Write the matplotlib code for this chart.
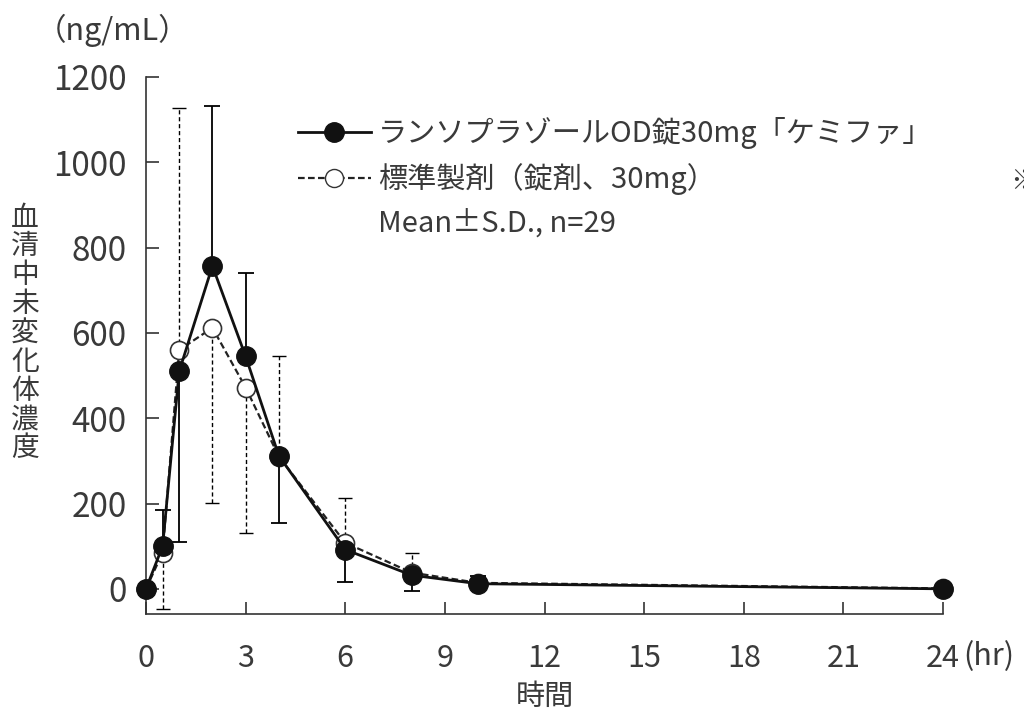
import numpy as np
import matplotlib
matplotlib.use('Agg')
import matplotlib.pyplot as plt
from matplotlib.lines import Line2D

plt.rcParams['font.family'] = ['Noto Sans CJK JP', 'DejaVu Sans']

# sampling times (hr)
times = [0, 0.5, 1, 2, 3, 4, 6, 8, 10, 24]

# test product (filled circles), mean and end of the S.D. bar drawn
test_mean = [0, 100, 510, 757, 545, 312, 92, 32, 12, 0]
test_sd_end = [None, 185, 110, 1132, 740, 155, 17, -4, 30, None]

# reference product (open circles)
ref_mean = [0, 85, 560, 612, 472, 310, 108, 38, 14, 1]
ref_sd_end = [None, -47, 1127, 201, 131, 547, 214, 84, None, None]

test_label = 'ランソプラゾールOD錠30mg「ケミファ」'
ref_label = '標準製剤（錠剤、30mg）'
note_label = 'Mean±S.D., n=29'

x_ticks = [0, 3, 6, 9, 12, 15, 18, 21, 24]
y_ticks = [0, 200, 400, 600, 800, 1000, 1200]

TEXT = '#3a3a3a'


def one_sided(mean, ends):
    lower, upper = [], []
    for m, e in zip(mean, ends):
        if e is None:
            lower.append(0); upper.append(0)
        elif e < m:
            lower.append(m - e); upper.append(0)
        else:
            lower.append(0); upper.append(e - m)
    return np.array([lower, upper])


fig = plt.figure(figsize=(10.24, 7.13), dpi=100)
ax = fig.add_axes([146 / 1024, 1 - 614 / 713, (943 - 146) / 1024, (614 - 77) / 713])

# reference (dashed, open)
eb = ax.errorbar(times, ref_mean, yerr=one_sided(ref_mean, ref_sd_end),
                 fmt='none', ecolor='black', elinewidth=1.0, capsize=5, capthick=1.0,
                 clip_on=False, zorder=2)
eb[2][0].set_linestyle((0, (3, 2)))
ax.plot(times, ref_mean, color='#222222', lw=1.6, linestyle=(0, (3, 1.5)),
        marker='o', markersize=13, markerfacecolor='white', markeredgecolor='#333333',
        markeredgewidth=1.2, clip_on=False, zorder=3)

# test (solid, filled)
ax.errorbar(times, test_mean, yerr=one_sided(test_mean, test_sd_end),
            fmt='none', ecolor='black', elinewidth=1.3, capsize=6, capthick=1.3,
            clip_on=False, zorder=4)
ax.plot(times, test_mean, color='#111111', lw=2.0, marker='o', markersize=14,
        markerfacecolor='#111111', markeredgecolor='#111111', clip_on=False, zorder=5)

ax.set_xlim(0, 24)
ax.set_ylim(-59, 1200)
ax.set_xticks(x_ticks)
ax.set_yticks(y_ticks)
ax.tick_params(axis='both', direction='in', length=9, width=1.2, colors='#333333',
               labelcolor=TEXT)
ax.tick_params(axis='y', labelsize=24, pad=14)
ax.tick_params(axis='x', labelsize=22, pad=21)
for s in ['top', 'right']:
    ax.spines[s].set_visible(False)
for s in ['left', 'bottom']:
    ax.spines[s].set_linewidth(1.2)
    ax.spines[s].set_color('#333333')

handles = [
    Line2D([], [], color='#111111', lw=2.0, marker='o', markersize=14,
           markerfacecolor='#111111'),
    Line2D([], [], color='#222222', lw=1.6, linestyle=(0, (3, 1.5)), marker='o',
           markersize=13, markerfacecolor='white', markeredgecolor='#333333'),
    Line2D([], [], color='none'),
]
leg = ax.legend(handles, [test_label, ref_label, note_label], loc='upper left',
                bbox_to_anchor=(0.176, 0.947), frameon=False, fontsize=21,
                handlelength=2.5, handletextpad=0.25, labelspacing=0.47,
                borderaxespad=0)
for t in leg.get_texts():
    t.set_color(TEXT)

# axis titles
fig.text(113 / 1024, 1 - 30 / 713, '（ng/mL）', ha='center', va='center',
         fontsize=22, color=TEXT)
fig.text(25 / 1024, 1 - 333 / 713, '\n'.join('血清中未変化体濃度'), ha='center',
         va='center', fontsize=20, color=TEXT, linespacing=0.95)
fig.text(545 / 1024, 1 - 697 / 713, '時間', ha='center', va='center', fontsize=21,
         color=TEXT)
fig.text(963 / 1024, 1 - 657 / 713, '(hr)', ha='left', va='center', fontsize=22,
         color=TEXT)
# partial mark cut by the right edge, as in the source figure
fig.text(1010 / 1024, 1 - 182 / 713, '※', ha='left', va='center', fontsize=20,
         color=TEXT)

fig.savefig('out.png', dpi=100)
